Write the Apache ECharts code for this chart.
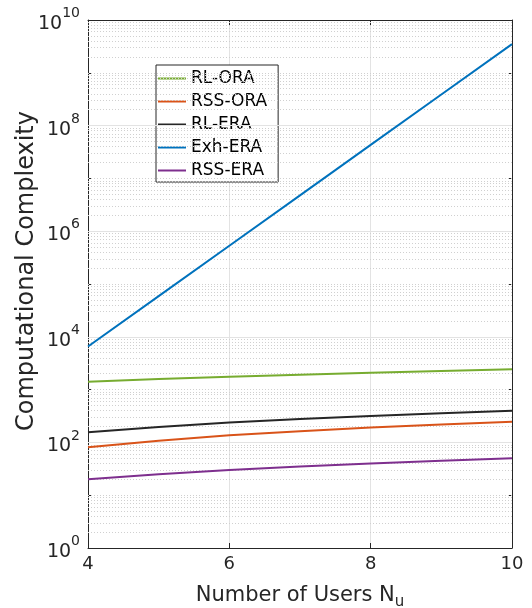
<!DOCTYPE html>
<html><head><meta charset="utf-8">
<script src="https://cdn.jsdelivr.net/npm/echarts@6/dist/echarts.min.js"></script>
<style>html,body{margin:0;padding:0;background:#fff}#c{width:532px;height:608px}</style>
</head><body><div id="c"></div>
<script>
var users = [4, 5, 6, 7, 8, 9, 10];
var rlOra  = [1412, 1580, 1750, 1920, 2090, 2255, 2424];
var rssOra = [81, 108, 136, 163, 191, 218, 246];
var rlEra  = [156, 196, 237, 277, 317, 358, 398];
var exhEra = [6561, 59049, 531441, 4782969, 43046721, 387420489, 3486784401];
var rssEra = [20, 25, 30, 35, 40, 45, 50];
var seriesNames = ['RL-ORA', 'RSS-ORA', 'RL-ERA', 'Exh-ERA', 'RSS-ERA'];
var seriesColors = ['#77AC30', '#D95319', '#262626', '#0072BD', '#7E2F8E'];
var seriesData = [rlOra, rssOra, rlEra, exhEra, rssEra];
var yTickExponents = [0, 2, 4, 6, 8, 10];

var FONT = 'DejaVu Sans';
var minorLines = [], majorLines = [];
for (var e = 0; e < 10; e++) {
  for (var k = 1; k <= 9; k++) {
    if (k === 1 && e % 2 === 0) continue;
    minorLines.push({ yAxis: k * Math.pow(10, e) });
  }
}
yTickExponents.forEach(function (ex) { if (ex > 0 && ex < 10) majorLines.push({ yAxis: Math.pow(10, ex) }); });

function pairs(arr) { return users.map(function (u, i) { return [u, arr[i]]; }); }

var series = seriesNames.map(function (n, i) {
  return {
    name: n, type: 'line', data: pairs(seriesData[i]), symbol: 'none',
    lineStyle: { color: seriesColors[i], width: 2 }, itemStyle: { color: seriesColors[i] },
    z: 5
  };
});
series.push({
  name: '_grid', type: 'line', data: [], silent: true,
  markLine: {
    silent: true, symbol: 'none', label: { show: false },
    lineStyle: { color: '#d0d0d0', type: [1, 2], width: 1 },
    data: minorLines, animation: false
  }
});
series.push({
  name: '_grid2', type: 'line', data: [], silent: true,
  markLine: {
    silent: true, symbol: 'none', label: { show: false },
    lineStyle: { color: '#e3e3e3', type: 'solid', width: 1 },
    data: majorLines, animation: false
  }
});

var chart = echarts.init(document.getElementById('c'));
chart.setOption({
  animation: false,
  backgroundColor: '#fff',
  grid: { left: 88, right: 20, top: 20, bottom: 60, containLabel: false, outerBoundsMode: 'none' },
  legend: {
    data: seriesNames.map(function (n) { return { name: n, icon: 'rect' }; }),
    orient: 'vertical', left: 156, top: 65,
    itemWidth: 28, itemHeight: 2, itemGap: 6,
    padding: [5, 11, 3, 2],
    backgroundColor: '#fff', borderColor: '#262626', borderWidth: 1,
    textStyle: { fontFamily: FONT, fontSize: 17, color: '#000', lineHeight: 17 }
  },
  xAxis: [{
    type: 'value', min: 4, max: 10, interval: 2,
    name: 'Number of Users N{sub|u}', nameLocation: 'middle', nameGap: 33, nameMoveOverlap: false,
    nameTextStyle: { fontFamily: FONT, fontSize: 21, color: '#262626',
      rich: { sub: { fontFamily: FONT, fontSize: 15, color: '#262626', verticalAlign: 'bottom', padding: [14, 0, 0, 0] } } },
    axisLine: { show: true, lineStyle: { color: '#262626' } },
    axisTick: { show: true, inside: true, length: 5, lineStyle: { color: '#262626' } },
    axisLabel: { fontFamily: FONT, fontSize: 18, color: '#262626', margin: 7 },
    splitLine: { show: true, lineStyle: { color: '#e3e3e3', width: 1 } }
  }, {
    type: 'value', min: 4, max: 10, interval: 2, position: 'top',
    axisLine: { show: true, lineStyle: { color: '#262626' } },
    axisTick: { show: true, inside: true, length: 5, lineStyle: { color: '#262626' } },
    axisLabel: { show: false }, splitLine: { show: false }
  }],
  yAxis: [{
    type: 'log', logBase: 10, min: 1, max: 1e10, interval: 1,
    name: 'Computational Complexity', nameLocation: 'middle', nameGap: 49, nameMoveOverlap: false,
    nameTextStyle: { fontFamily: FONT, fontSize: 24, color: '#262626', padding: [0, 0, 0, 26] },
    axisLine: { show: true, lineStyle: { color: '#262626' } },
    axisTick: { show: true, inside: true, length: 4, lineStyle: { color: '#262626' } },
    axisLabel: {
      fontFamily: FONT, fontSize: 18, color: '#262626', margin: 8,
      formatter: function (v) {
        var ex = Math.round(Math.log10(v));
        if (yTickExponents.indexOf(ex) < 0) return '';
        return '{b|10}{s|' + ex + '}';
      },
      rich: {
        b: { fontFamily: FONT, fontSize: 19, color: '#262626', padding: [8, 0, 0, 0] },
        s: { fontFamily: FONT, fontSize: 14, color: '#262626', verticalAlign: 'top', padding: [0, 0, 8, 0] }
      }
    },
    splitLine: { show: false }
  }, {
    type: 'log', logBase: 10, min: 1, max: 1e10, interval: 1, position: 'right',
    axisLine: { show: true, lineStyle: { color: '#262626' } },
    axisTick: { show: true, inside: true, length: 4, lineStyle: { color: '#262626' } },
    axisLabel: { show: false }, splitLine: { show: false }
  }],
  series: series
});
</script></body></html>
